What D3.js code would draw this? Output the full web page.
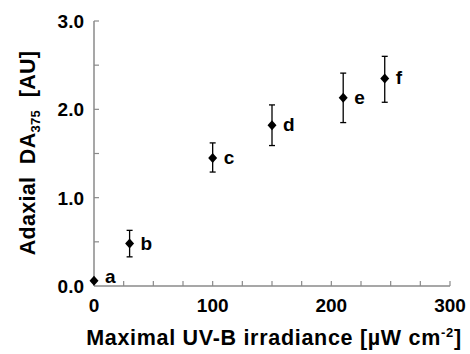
<!DOCTYPE html>
<html>
<head>
<meta charset="utf-8">
<script src="https://cdn.jsdelivr.net/npm/d3@7"></script>
<style>
  body { margin: 0; background: #fff; }
  text { font-family: "Liberation Sans", Arial, sans-serif; font-weight: bold; }
</style>
</head>
<body>
<script>
// data
const irradiance = [0, 30, 100, 150, 210, 245];
const da375 = [0.06, 0.48, 1.45, 1.82, 2.13, 2.35];
const errLow = [0.06, 0.33, 1.29, 1.59, 1.85, 2.08];
const errHigh = [0.06, 0.63, 1.62, 2.05, 2.41, 2.60];
const letters = ['a', 'b', 'c', 'd', 'e', 'f'];
const xTicks = [0, 100, 200, 300];
const yTicks = [0, 1, 2, 3];

const width = 470, height = 354;
const svg = d3.select('body').append('svg')
  .attr('width', width)
  .attr('height', height);

const x = d3.scaleLinear().domain([0, 300]).range([94, 450]);
const y = d3.scaleLinear().domain([0, 3]).range([286, 21]);

const axisColor = '#8a8a8a';

// axes lines
svg.append('line')
  .attr('x1', x(0)).attr('x2', x(300))
  .attr('y1', y(0)).attr('y2', y(0))
  .attr('stroke', axisColor).attr('stroke-width', 1.5);
svg.append('line')
  .attr('x1', x(0)).attr('x2', x(0))
  .attr('y1', y(0)).attr('y2', y(3))
  .attr('stroke', axisColor).attr('stroke-width', 1.5);

// x ticks every 25, pointing inward
svg.selectAll('.xt').data(d3.range(25, 301, 25)).enter().append('line')
  .attr('x1', d => x(d)).attr('x2', d => x(d))
  .attr('y1', y(0)).attr('y2', y(0) - 5)
  .attr('stroke', axisColor).attr('stroke-width', 1.2);

// y ticks every 0.5
svg.selectAll('.yt').data(d3.range(0.5, 3.01, 0.5)).enter().append('line')
  .attr('x1', x(0)).attr('x2', x(0) + 5)
  .attr('y1', d => y(d)).attr('y2', d => y(d))
  .attr('stroke', axisColor).attr('stroke-width', 1.2);

// tick labels
svg.selectAll('.xl').data(xTicks).enter().append('text')
  .attr('x', d => x(d)).attr('y', 312)
  .attr('text-anchor', 'middle')
  .attr('font-size', 19)
  .text(d => d);

svg.selectAll('.yl').data(yTicks).enter().append('text')
  .attr('x', 84).attr('y', d => y(d) + 7)
  .attr('text-anchor', 'end')
  .attr('font-size', 19)
  .text(d => d.toFixed(1));

// axis titles
const xt = svg.append('text')
  .attr('x', 274).attr('y', 345)
  .attr('text-anchor', 'middle')
  .attr('font-size', 21.5)
  .attr('letter-spacing', 0.7);
xt.append('tspan').text('Maximal UV-B irradiance [µW cm');
xt.append('tspan').attr('font-size', 13).attr('dy', -8).text('-2');
xt.append('tspan').attr('dy', 8).text(']');

const yt = svg.append('text')
  .attr('transform', 'translate(35,153) rotate(-90)')
  .attr('text-anchor', 'middle')
  .attr('font-size', 21.5)
  .attr('letter-spacing', 0.3);
yt.append('tspan').text('Adaxial\u00a0\u00a0DA');
yt.append('tspan').attr('font-size', 13).attr('dy', 5).text('375');
yt.append('tspan').attr('dy', -5).text('\u00a0\u00a0[AU]');

// error bars
const pts = irradiance.map((v, i) => ({ x: v, y: da375[i], lo: errLow[i], hi: errHigh[i], l: letters[i] }));
const eb = svg.selectAll('.eb').data(pts.filter(d => d.hi - d.lo > 0.01)).enter().append('g');
eb.append('line')
  .attr('x1', d => x(d.x)).attr('x2', d => x(d.x))
  .attr('y1', d => y(d.lo)).attr('y2', d => y(d.hi))
  .attr('stroke', '#000').attr('stroke-width', 1.3);
eb.append('line')
  .attr('x1', d => x(d.x) - 3).attr('x2', d => x(d.x) + 3)
  .attr('y1', d => y(d.lo)).attr('y2', d => y(d.lo))
  .attr('stroke', '#000').attr('stroke-width', 1.3);
eb.append('line')
  .attr('x1', d => x(d.x) - 3).attr('x2', d => x(d.x) + 3)
  .attr('y1', d => y(d.hi)).attr('y2', d => y(d.hi))
  .attr('stroke', '#000').attr('stroke-width', 1.3);

// diamond markers
svg.selectAll('.pt').data(pts).enter().append('path')
  .attr('transform', d => `translate(${x(d.x)},${y(d.y)})`)
  .attr('d', 'M0,-5L4.5,0L0,5L-4.5,0Z')
  .attr('fill', '#000');

// point letters
svg.selectAll('.lt').data(pts).enter().append('text')
  .attr('x', d => x(d.x) + 11).attr('y', d => y(d.y) + (d.l === 'a' ? 2 : 6))
  .attr('font-size', 19)
  .text(d => d.l);
</script>
</body>
</html>
